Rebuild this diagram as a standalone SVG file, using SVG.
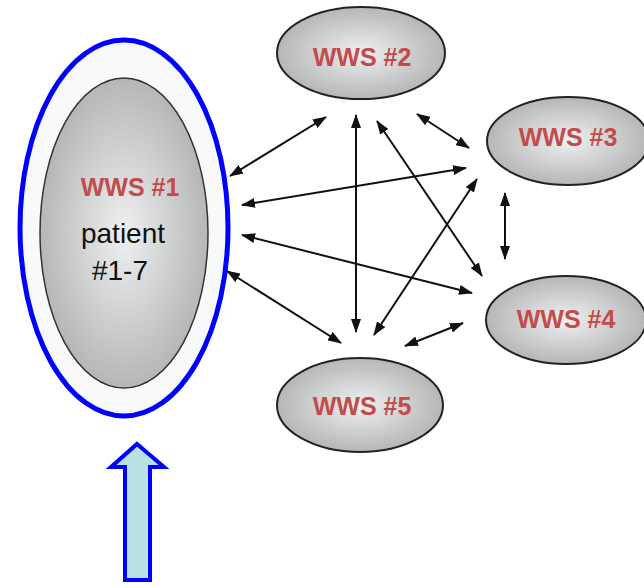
<svg xmlns="http://www.w3.org/2000/svg" width="644" height="587" viewBox="0 0 644 587">
  <defs>
    <radialGradient id="grey" cx="50%" cy="50%" r="50%">
      <stop offset="0" stop-color="#eef0f1"/>
      <stop offset="1" stop-color="#b6b6b6"/>
    </radialGradient>
    <marker id="head" viewBox="0 0 14 10" refX="13" refY="5" markerWidth="14" markerHeight="10" markerUnits="userSpaceOnUse" orient="auto-start-reverse">
      <path d="M0,0 L14,5 L0,10 Z" fill="#111"/>
    </marker>
  </defs>
  <style>
    .node { fill: url(#grey); stroke: #222; stroke-width: 2; }
    .lbl { font-family: "Liberation Sans", Arial, sans-serif; font-size: 25px; font-weight: bold; fill: #c24b4b; text-anchor: middle; }
    .txt { font-family: "Liberation Sans", Arial, sans-serif; font-size: 28px; fill: #111; text-anchor: middle; }
    .link { stroke: #111; stroke-width: 2; fill: none; marker-start: url(#head); marker-end: url(#head); }
  </style>

  <rect width="644" height="587" fill="#fff"/>

  <g id="wws1">
    <ellipse cx="124" cy="228" rx="104" ry="188" fill="#f7f9fa" stroke="#0000ff" stroke-width="5"/>
    <ellipse cx="124" cy="233" rx="84" ry="155" fill="url(#grey)" stroke="#333" stroke-width="1.5"/>
    <text class="lbl" x="130" y="196">WWS #1</text>
    <text class="txt" x="123" y="243">patient</text>
    <text class="txt" x="120" y="280">#1-7</text>
  </g>

  <g id="wws2">
    <ellipse class="node" cx="361" cy="53" rx="84" ry="46"/>
    <text class="lbl" x="362" y="66">WWS #2</text>
  </g>

  <g id="wws3">
    <ellipse class="node" cx="568" cy="141" rx="81" ry="44"/>
    <text class="lbl" x="568" y="146">WWS #3</text>
  </g>

  <g id="wws4">
    <ellipse class="node" cx="566" cy="320" rx="80" ry="44"/>
    <text class="lbl" x="566" y="328">WWS #4</text>
  </g>

  <g id="wws5">
    <ellipse class="node" cx="360" cy="405" rx="83" ry="47"/>
    <text class="lbl" x="362" y="415">WWS #5</text>
  </g>

  <g id="connectors">
    <line class="link" x1="230" y1="176" x2="326" y2="117"/>
    <line class="link" x1="356" y1="115" x2="356" y2="332"/>
    <line class="link" x1="377" y1="121" x2="482" y2="276"/>
    <line class="link" x1="417" y1="114" x2="469" y2="148"/>
    <line class="link" x1="242" y1="205" x2="466" y2="168"/>
    <line class="link" x1="374" y1="335" x2="477" y2="179"/>
    <line class="link" x1="505" y1="193" x2="505" y2="259"/>
    <line class="link" x1="242" y1="235" x2="472" y2="293"/>
    <line class="link" x1="227" y1="271" x2="341" y2="343"/>
    <line class="link" x1="405" y1="346" x2="463" y2="323"/>
  </g>

  <g id="input-arrow">
    <path d="M137,444 L164,467 L150,467 L150,580 L125,580 L125,467 L111,467 Z" fill="#b9e0e4" stroke="#0000ff" stroke-width="4" stroke-linejoin="miter"/>
  </g>
</svg>
